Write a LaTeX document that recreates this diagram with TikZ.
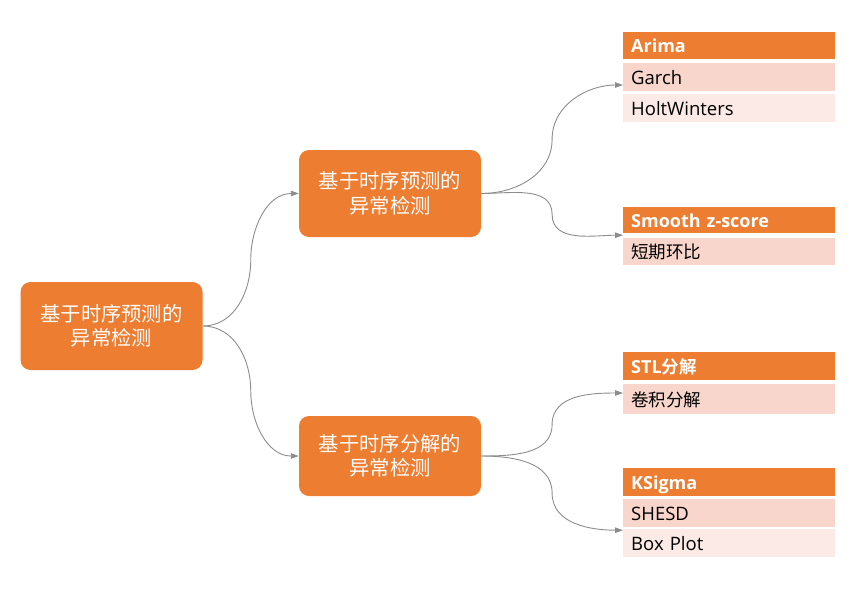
\documentclass[tikz,border=0pt]{standalone}
\usepackage{fontspec}
\setmainfont{Open Sans}
\newfontfamily\cjk{Noto Sans CJK SC}[BoldFont={Noto Sans CJK SC Bold}]
\usetikzlibrary{arrows.meta,calc}
\definecolor{orangeM}{HTML}{ED7D31}
\definecolor{rowA}{HTML}{F8D6CC}
\definecolor{rowB}{HTML}{FBEAE5}
\definecolor{edgeG}{HTML}{8C8C8C}
\begin{document}
\begin{tikzpicture}[x=1pt,y=-1pt,
  mainbox/.style={fill=orangeM, rounded corners=10pt, minimum width=182pt, text=white,
    align=center, inner sep=0pt, font=\cjk\fontsize{20.3}{24.5}\selectfont},
  listrow/.style={anchor=west, minimum width=212pt, inner xsep=8pt, inner ysep=0pt,
    text width=196pt, align=left, text height=15pt, text depth=1pt,
    font=\fontsize{18.5}{20}\selectfont},
  headrow/.style={listrow, fill=orangeM, text=white, font=\fontsize{18}{20}\selectfont\bfseries},
  rowdark/.style={listrow, fill=rowA, text=black},
  rowlight/.style={listrow, fill=rowB, text=black},
  zh/.style={font=\cjk\fontsize{17.5}{20}\selectfont},
  conn/.style={draw=edgeG, line width=0.9pt, -{Triangle[length=8pt,width=5.5pt]}}
]
\useasboundingbox (0,0) rectangle (864,589);

\node[mainbox, minimum height=88pt] (root) at (111.5,326) {基于时序预测的\\异常检测};
\node[mainbox, minimum height=87pt] (m1) at (390,193.5) {基于时序预测的\\异常检测};
\node[mainbox, minimum height=80pt] (m2) at (390,456) {基于时序分解的\\异常检测};

\node[headrow, minimum height=27pt] (arima) at (623,45.5) {Arima};
\node[rowdark, minimum height=28pt] (garch) at (623,77) {Garch};
\node[rowlight, minimum height=28pt] (holt) at (623,108) {HoltWinters};

\node[headrow, minimum height=26pt] (smooth) at (623,220) {Smooth z-score};
\node[rowdark, zh, minimum height=27pt] (dq) at (623,251.5) {短期环比};

\node[headrow, minimum height=28pt] (stl) at (623,366) {STL{\cjk\bfseries\fontsize{17.5}{20}\selectfont 分解}};
\node[rowdark, zh, minimum height=30pt] (conv) at (623,399) {卷积分解};

\node[headrow, minimum height=28pt] (ksig) at (623,482) {KSigma};
\node[rowdark, minimum height=28pt] (shesd) at (623,513) {SHESD};
\node[rowlight, minimum height=28pt] (box) at (623,543) {Box Plot};

\coordinate (tA) at ($(garch.west)+(0,8)$);
\coordinate (tS) at ($(smooth.south west)+(0,2)$);
\coordinate (tT) at ($(conv.west)+(0,-6)$);
\coordinate (tK) at ($(shesd.south west)+(0,3)$);

\draw[conn] (root.east) to[out=0,in=-90] ($(root.east)!.5!(m1.west)$) to[out=90,in=180] (m1.west);
\draw[conn] (root.east) to[out=0,in=90] ($(root.east)!.5!(m2.west)$) to[out=-90,in=180] (m2.west);

\draw[conn] (m1.east) to[out=0,in=-90] ($(m1.east)!.5!(tA)$) to[out=90,in=180] (tA);
\draw[conn] (m1.east) to[out=0,in=90] ($(m1.east)!.5!(tS)$) to[out=-90,in=180] (tS);
\draw[conn] (m2.east) to[out=0,in=-90] ($(m2.east)!.5!(tT)$) to[out=90,in=180] (tT);
\draw[conn] (m2.east) to[out=0,in=90] ($(m2.east)!.5!(tK)$) to[out=-90,in=180] (tK);
\end{tikzpicture}
\end{document}
